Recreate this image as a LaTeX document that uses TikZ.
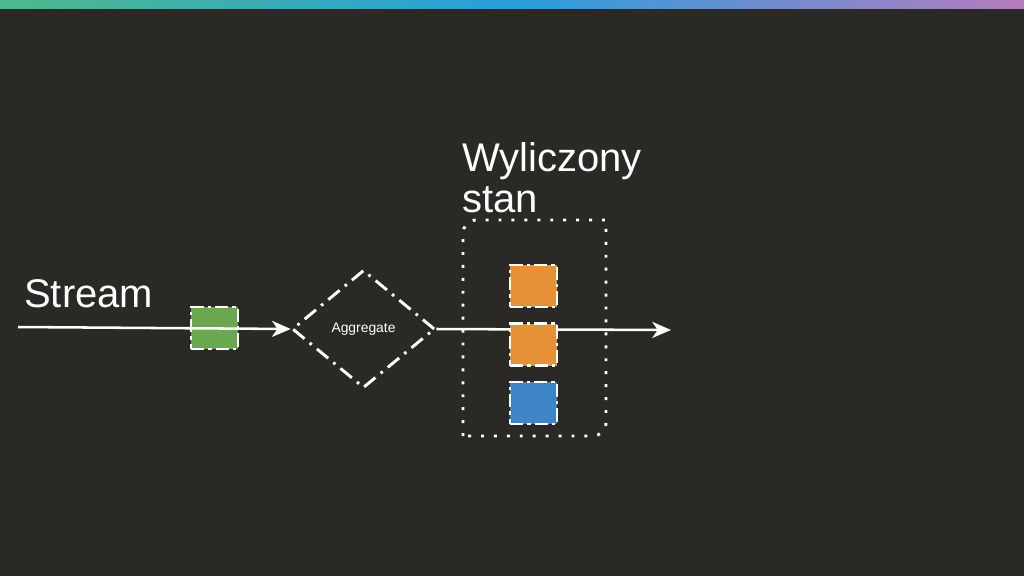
\documentclass[tikz,border=0pt]{standalone}
\usepackage{fontspec}
\setmainfont{Liberation Sans}
\usetikzlibrary{arrows.meta,shapes.geometric}
\definecolor{bg}{RGB}{43,41,38}
\definecolor{evgreen}{RGB}{106,168,79}
\definecolor{storange}{RGB}{230,145,56}
\definecolor{stblue}{RGB}{61,133,198}
\definecolor{barl}{RGB}{78,186,140}
\definecolor{barm}{RGB}{40,158,220}
\definecolor{barr}{RGB}{182,124,190}
\begin{document}
\begin{tikzpicture}[x=0.75pt,y=-0.75pt,
  ev/.style={draw=white,line width=2.2pt,dash pattern=on 10pt off 3pt on 2.5pt off 3pt,
    minimum width=35.25pt,minimum height=31.5pt,inner sep=0pt},
  flow/.style={white,line width=1.9pt,-{Stealth[length=14pt,width=12pt,inset=4pt]}}]
  \fill[bg] (0,0) rectangle (1024,576);
  \useasboundingbox (0,0) rectangle (1024,576);
  \shade[left color=barl,right color=barr,middle color=barm] (0,0) rectangle (1024,8);

  \node[anchor=base west,white,font=\fontsize{30}{30}\selectfont,inner sep=0pt] (lstream) at (24,307) {Stream};
  \node[anchor=north west,white,align=left,font=\fontsize{30}{31}\selectfont,inner sep=0pt] (lstate) at (462,142) {Wyliczony\\stan};

  % state container
  \draw[white,line width=2.2pt,dash pattern=on 2.2pt off 7.5pt]
    (463,436) -- (463,300) [rounded corners=10pt] -- (463,220) -- (540,220)
    [sharp corners] -- (606,220) -- (606,330) [rounded corners=10pt] -- (606,436) -- (540,436)
    [sharp corners] -- cycle;

  \node[ev,fill=evgreen] (event) at (214.5,328) {};
  \node[diamond,draw=white,line width=2.2pt,dash pattern=on 11pt off 5pt on 2pt off 5pt,
    minimum width=107pt,minimum height=88.5pt,inner sep=0pt,text=white,
    font=\fontsize{10.4}{12}\selectfont] (agg) at (363.5,329) {Aggregate};

  \coordinate (src) at (18,327);
  \coordinate (out) at (671,330);
  \draw[flow] (src) -- (agg.west);
  \draw[flow] (agg.east) -- (out);

  \node[ev,fill=storange] (st1) at (533.5,286) {};
  \node[ev,fill=storange] (st2) at (533.5,344.5) {};
  \node[ev,fill=stblue] (st3) at (533.5,403) {};
\end{tikzpicture}
\end{document}
